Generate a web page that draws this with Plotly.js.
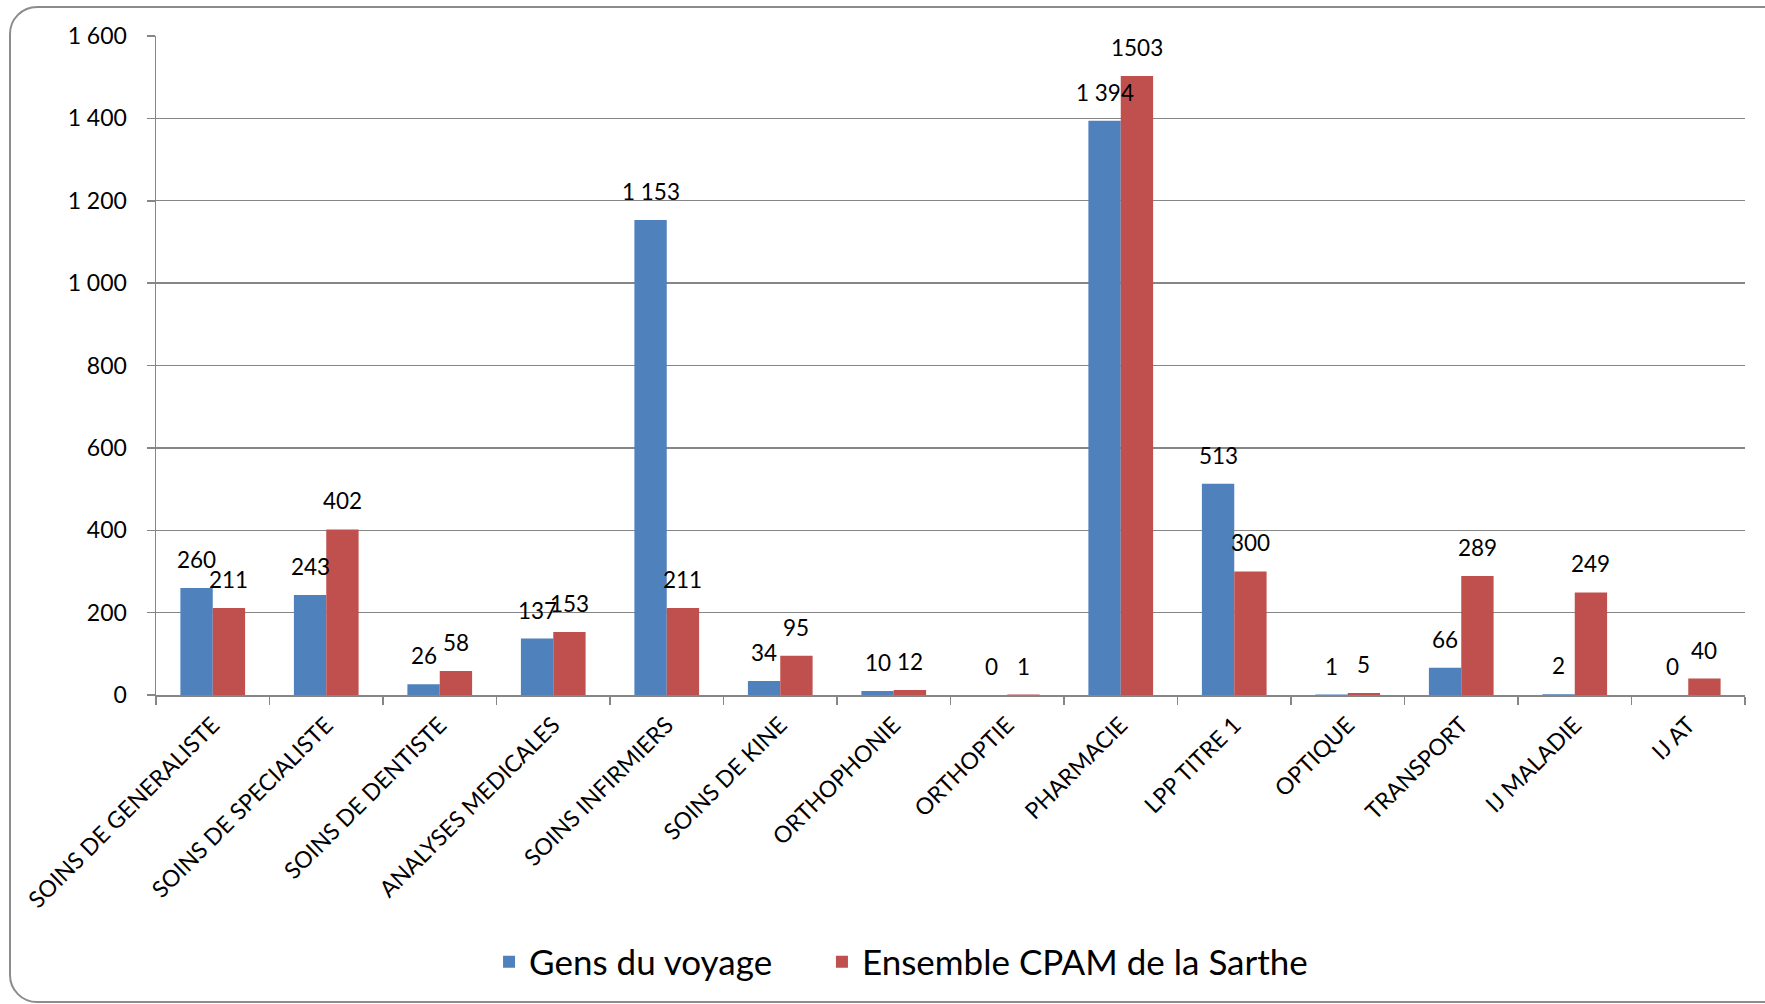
<!DOCTYPE html>
<html>
<head>
<meta charset="utf-8">
<script src="https://cdn.plot.ly/plotly-3.0.1.min.js"></script>
<style>
  html, body { margin: 0; padding: 0; background: #ffffff; }
  #wrap { position: relative; width: 1765px; height: 1004px; overflow: hidden; }
  #chart { position: absolute; left: 0; top: 0; width: 1765px; height: 1004px; }
  #frame { position: absolute; left: 9px; top: 6px; width: 1800px; height: 997px;
           box-sizing: border-box; border: 2px solid #8c8c8c; border-radius: 28px;
           pointer-events: none; }
</style>
</head>
<body>
<div id="wrap">
  <div id="chart"></div>
  <div id="frame"></div>
</div>
<script>
const categories = ["SOINS DE GENERALISTE", "SOINS DE SPECIALISTE", "SOINS DE DENTISTE",
  "ANALYSES MEDICALES", "SOINS INFIRMIERS", "SOINS DE KINE", "ORTHOPHONIE", "ORTHOPTIE",
  "PHARMACIE", "LPP TITRE 1", "OPTIQUE", "TRANSPORT", "IJ MALADIE", "IJ AT"];

const gensValues = [260, 243, 26, 137, 1153, 34, 10, 0, 1394, 513, 1, 66, 2, 0];
const gensLabels = ["260", "243", "26", "137", "1 153", "34", "10", "0", "1 394", "513", "1", "66", "2", "0"];

const cpamValues = [211, 402, 58, 153, 211, 95, 12, 1, 1503, 300, 5, 289, 249, 40];
const cpamLabels = ["211", "402", "58", "153", "211", "95", "12", "1", "1503", "300", "5", "289", "249", "40"];

const seriesNames = ["Gens du voyage", "Ensemble CPAM de la Sarthe"];

const yTickVals = [0, 200, 400, 600, 800, 1000, 1200, 1400, 1600];
const yTickText = ["0", "200", "400", "600", "800", "1 000", "1 200", "1 400", "1 600"];

const FONT = "Lato, 'Open Sans', sans-serif";
const GRID = "#868686";

const traces = [
  { type: "bar", name: seriesNames[0], x: categories, y: gensValues,
    marker: { color: "#4F81BD" }, hoverinfo: "x+y", legend: "legend" },
  { type: "bar", name: seriesNames[1], x: categories, y: cpamValues,
    marker: { color: "#C0504D" }, hoverinfo: "x+y", legend: "legend2" }
];

const barShift = 16.2;
const annotations = [];
categories.forEach((c, i) => {
  annotations.push({ x: c, y: gensValues[i], text: gensLabels[i], showarrow: false,
    xshift: -barShift, yshift: 13, yanchor: "bottom", xanchor: "center",
    font: { family: FONT, size: 22.5, color: "#000" } });
  annotations.push({ x: c, y: cpamValues[i], text: cpamLabels[i], showarrow: false,
    xshift: barShift, yshift: 13, yanchor: "bottom", xanchor: "center",
    font: { family: FONT, size: 22.5, color: "#000" } });
});

const legendFont = { family: FONT, size: 35, color: "#000" };

const layout = {
  width: 1765, height: 1004,
  margin: { l: 156, r: 20, t: 36, b: 309 },
  paper_bgcolor: "rgba(0,0,0,0)", plot_bgcolor: "rgba(0,0,0,0)",
  font: { family: FONT, size: 22, color: "#000" },
  barmode: "group", bargap: 0.43, bargroupgap: 0,
  showlegend: true,
  legend: { orientation: "h", x: 0.2096, xanchor: "left", y: -0.405, yanchor: "middle",
            font: legendFont, itemwidth: 30, bgcolor: "rgba(0,0,0,0)" },
  legend2: { orientation: "h", x: 0.4191, xanchor: "left", y: -0.405, yanchor: "middle",
            font: legendFont, itemwidth: 30, bgcolor: "rgba(0,0,0,0)" },
  xaxis: { type: "category", tickangle: -45, tickson: "boundaries", ticks: "outside",
           ticklen: 8, tickcolor: GRID, tickwidth: 1.5, showline: true, linecolor: GRID,
           linewidth: 1.5, showgrid: false, tickfont: { family: FONT, size: 23, color: "#000" },
           automargin: false, ticklabelstandoff: 6 },
  yaxis: { range: [0, 1600], tickvals: yTickVals, ticktext: yTickText, ticks: "outside",
           ticklen: 8, tickcolor: GRID, tickwidth: 1.5, showline: true, linecolor: GRID,
           linewidth: 1.5, showgrid: true, gridcolor: GRID, gridwidth: 1.3, zeroline: false,
           tickfont: { family: FONT, size: 23, color: "#000" }, automargin: false,
           ticklabelstandoff: 15 },
  annotations: annotations
};

Plotly.newPlot("chart", traces, layout, { displayModeBar: false, staticPlot: true });
</script>
</body>
</html>
